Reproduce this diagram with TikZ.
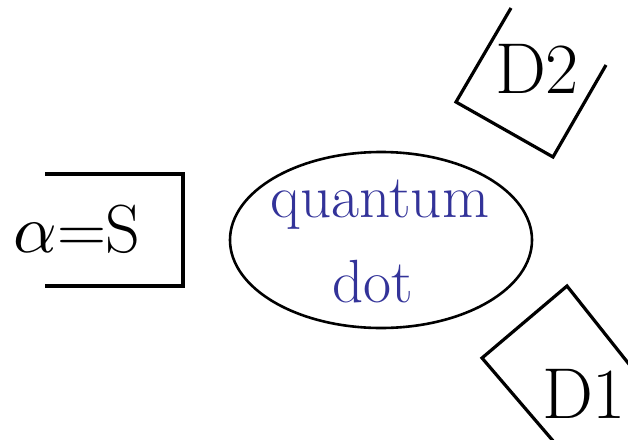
\documentclass[tikz,border=0pt]{standalone}
\usetikzlibrary{shapes.geometric}
\definecolor{qdblue}{RGB}{51,51,153}
\newcommand{\bigalpha}{\scalebox{6.8}{\fontsize{10}{12}\selectfont$\alpha$}}
\begin{document}
\begin{tikzpicture}[x=1pt,y=-1pt,
  boxline/.style={line width=3.2pt, line join=miter},
  lbl/.style={anchor=base, inner sep=0pt, font=\fontsize{72}{72}\selectfont},
  qdtext/.style={anchor=base, inner sep=0pt, text=qdblue, font=\fontsize{61}{61}\selectfont}]
\useasboundingbox (0,0) rectangle (628,439);
\clip (0,0) rectangle (628,439);
% quantum dot
\node[ellipse, draw, line width=2.6pt, minimum width=302pt, minimum height=176pt, inner sep=0pt] (qd) at (381,240) {};
\node[qdtext] (qd1) at (380,217) {quantum};
\node[qdtext] (qd2) at (373,302) {dot};
% source box
\coordinate (s1) at (45,174);
\coordinate (s2) at (183,174);
\coordinate (s3) at (183,286);
\coordinate (s4) at (45,286);
\draw[boxline] (s1) -- (s2) -- (s3) -- (s4);
\node[lbl, font=\fontsize{68}{68}\selectfont] (src) at (77,252) {\bigalpha=S};
% D2 box
\coordinate (a1) at (511,8);
\coordinate (a2) at (456,102);
\coordinate (a3) at (553,157);
\coordinate (a4) at (606,65);
\draw[boxline] (a1) -- (a2) -- (a3) -- (a4);
\node[lbl] (d2) at (537,93) {D2};
% D1 box
\coordinate (b1) at (640,378);
\coordinate (b2) at (567,286);
\coordinate (b3) at (482,358);
\coordinate (b4) at (560,449);
\draw[boxline] (b1) -- (b2) -- (b3) -- (b4);
\node[lbl] (d1) at (584,418) {D1};
\end{tikzpicture}
\end{document}
